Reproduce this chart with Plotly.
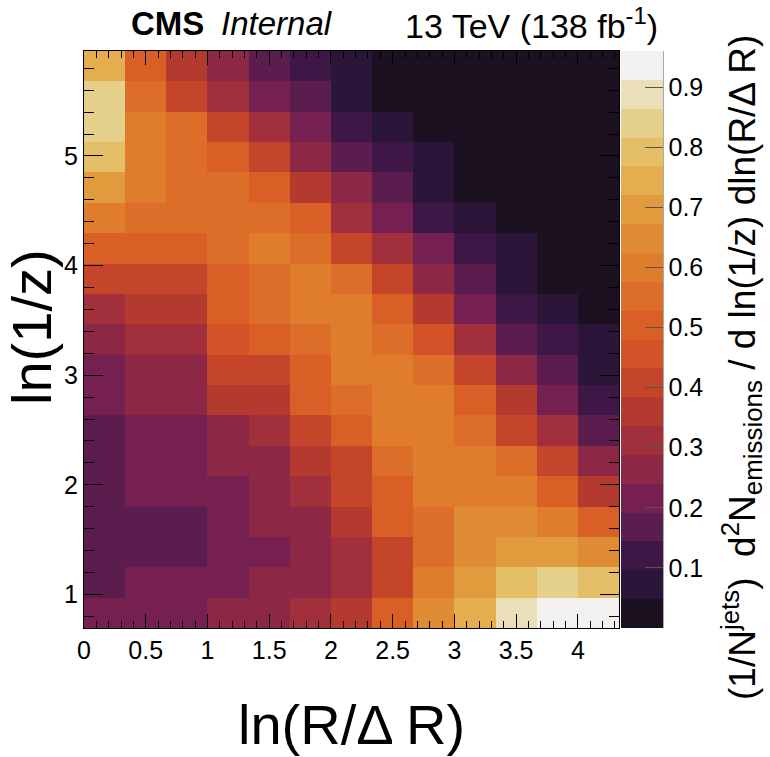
import numpy as np
import plotly.graph_objects as go

# Lund-plane bin edges
x_edges = list(np.linspace(0.0, 13.0 / 3.0, 14))          # ln(R/dR), 13 bins
y_edges = list(np.linspace(0.693, 5.958, 20))              # ln(1/z), 19 bins

# Emission density, rows from lowest ln(1/z) bin (bottom) to highest (top)
density = [
    [0.22, 0.22, 0.22, 0.26, 0.26, 0.31, 0.36, 0.50, 0.65, 0.74, 0.89, 0.95, 0.94],
    [0.17, 0.22, 0.22, 0.22, 0.26, 0.26, 0.31, 0.41, 0.60, 0.70, 0.79, 0.84, 0.79],
    [0.17, 0.17, 0.17, 0.22, 0.22, 0.26, 0.31, 0.41, 0.55, 0.65, 0.70, 0.70, 0.65],
    [0.17, 0.17, 0.17, 0.22, 0.26, 0.26, 0.36, 0.50, 0.55, 0.65, 0.65, 0.60, 0.50],
    [0.17, 0.22, 0.22, 0.22, 0.26, 0.31, 0.41, 0.50, 0.60, 0.60, 0.60, 0.50, 0.36],
    [0.17, 0.22, 0.22, 0.26, 0.26, 0.36, 0.41, 0.55, 0.60, 0.60, 0.55, 0.41, 0.26],
    [0.17, 0.22, 0.22, 0.26, 0.31, 0.41, 0.50, 0.60, 0.60, 0.55, 0.41, 0.31, 0.17],
    [0.22, 0.26, 0.26, 0.36, 0.36, 0.50, 0.55, 0.60, 0.60, 0.50, 0.36, 0.22, 0.12],
    [0.22, 0.26, 0.26, 0.41, 0.41, 0.50, 0.60, 0.60, 0.55, 0.41, 0.26, 0.17, 0.07],
    [0.26, 0.31, 0.31, 0.46, 0.50, 0.55, 0.60, 0.55, 0.46, 0.31, 0.17, 0.12, 0.07],
    [0.31, 0.36, 0.36, 0.50, 0.55, 0.60, 0.60, 0.50, 0.36, 0.22, 0.12, 0.07, 0.02],
    [0.41, 0.41, 0.41, 0.50, 0.55, 0.60, 0.55, 0.41, 0.26, 0.17, 0.07, 0.02, 0.02],
    [0.50, 0.50, 0.50, 0.55, 0.60, 0.55, 0.41, 0.31, 0.22, 0.12, 0.07, 0.02, 0.02],
    [0.60, 0.55, 0.55, 0.55, 0.55, 0.50, 0.31, 0.22, 0.12, 0.07, 0.02, 0.02, 0.02],
    [0.70, 0.60, 0.55, 0.55, 0.50, 0.36, 0.26, 0.17, 0.07, 0.02, 0.02, 0.02, 0.02],
    [0.79, 0.60, 0.55, 0.50, 0.41, 0.26, 0.17, 0.12, 0.07, 0.02, 0.02, 0.02, 0.02],
    [0.84, 0.60, 0.55, 0.41, 0.31, 0.22, 0.12, 0.07, 0.02, 0.02, 0.02, 0.02, 0.02],
    [0.84, 0.55, 0.41, 0.31, 0.22, 0.17, 0.07, 0.02, 0.02, 0.02, 0.02, 0.02, 0.02],
    [0.74, 0.50, 0.36, 0.26, 0.17, 0.12, 0.07, 0.02, 0.02, 0.02, 0.02, 0.02, 0.02],
]

x_tick_vals = [0, 0.5, 1, 1.5, 2, 2.5, 3, 3.5, 4]
x_tick_text = ["0", "0.5", "1", "1.5", "2", "2.5", "3", "3.5", "4"]
y_tick_vals = [1, 2, 3, 4, 5]
y_tick_text = ["1", "2", "3", "4", "5"]
z_tick_vals = [0.1, 0.2, 0.3, 0.4, 0.5, 0.6, 0.7, 0.8, 0.9]
z_tick_text = ["0.1", "0.2", "0.3", "0.4", "0.5", "0.6", "0.7", "0.8", "0.9"]
z_min, z_max = 0.0, 0.96

# 20-level contour palette (low -> high)
palette = [
    "#1c1121", "#2b1538", "#3f1747", "#5b1d4e", "#752050",
    "#8c2846", "#a1303c", "#b43a30", "#c5452a", "#d45227",
    "#d95f27", "#dd6e2a", "#df7d2d", "#e08c34", "#e29b3c",
    "#e4ad4d", "#e5bf68", "#e5d08b", "#ebdfba", "#f3f1ef",
]
n = len(palette)
colorscale = []
for i, c in enumerate(palette):
    colorscale.append([i / n, c])
    colorscale.append([(i + 1) / n, c])

FONT = "Liberation Sans, Arial, Helvetica, sans-serif"

# plot-area geometry in pixels
W, H = 770, 757
L, R, T, B = 84, 619, 51, 628
pw, ph = R - L, B - T


def px_x(x):
    return (x - L) / pw


def px_y(y):
    return (B - y) / ph


fig = go.Figure()
fig.add_trace(go.Heatmap(
    x=x_edges, y=y_edges, z=density,
    zmin=z_min, zmax=z_max,
    colorscale=colorscale,
    hoverinfo="skip",
    colorbar=dict(
        thickness=42, thicknessmode="pixels",
        len=1.0, lenmode="fraction",
        x=px_x(621), xanchor="left", xpad=0,
        y=0.5, yanchor="middle", ypad=0,
        outlinewidth=0,
        tickmode="array", tickvals=z_tick_vals, ticktext=z_tick_text,
        ticks="inside", ticklen=18, tickcolor="#555555", tickwidth=1,
        tickfont=dict(family=FONT, size=25, color="black"),
    ),
))

axis_common = dict(
    showgrid=False, zeroline=False,
    showline=True, linecolor="black", linewidth=1, mirror="ticks",
    ticks="inside", tickcolor="black", tickwidth=1,
    tickfont=dict(family=FONT, size=25, color="black"),
)

fig.update_xaxes(
    range=[0, 13.0 / 3.0], tickmode="array",
    tickvals=x_tick_vals, ticktext=x_tick_text, ticklen=14,
    minor=dict(ticks="inside", ticklen=7, dtick=0.1, tick0=0, tickcolor="black"),
    **axis_common,
)
fig.update_yaxes(
    range=[0.693, 5.958], tickmode="array",
    tickvals=y_tick_vals, ticktext=y_tick_text, ticklen=19,
    minor=dict(ticks="inside", ticklen=10, dtick=0.2, tick0=0, tickcolor="black"),
    **axis_common,
)

annotations = [
    dict(text="ln(R/Δ R)", x=0.5, y=px_y(724), xanchor="center", yanchor="middle",
         font=dict(family=FONT, size=56, color="black")),
    dict(text="ln(1/z)", x=px_x(31), y=px_y(327), xanchor="center", yanchor="middle",
         textangle=-90, font=dict(family=FONT, size=56, color="black")),
    dict(text="(1/N<sup>jets</sup>)  d<sup>2</sup>N<sub>emissions</sub> / d ln(1/z) dln(R/Δ R)",
         x=px_x(741), y=px_y(368), xanchor="center", yanchor="middle",
         textangle=-90, font=dict(family=FONT, size=37, color="black")),
    dict(text="<b>CMS</b>", x=px_x(129), y=px_y(24), xanchor="left", yanchor="middle",
         font=dict(family=FONT, size=33, color="black")),
    dict(text="<i>Internal</i>", x=px_x(219), y=px_y(24), xanchor="left", yanchor="middle",
         font=dict(family=FONT, size=33, color="black")),
    dict(text="13 TeV (138 fb<sup>-1</sup>)", x=px_x(660), y=px_y(24), xanchor="right",
         yanchor="middle", font=dict(family=FONT, size=34, color="black")),
]
for a in annotations:
    a.update(xref="paper", yref="paper", showarrow=False)

fig.update_layout(
    width=W, height=H, autosize=False,
    margin=dict(l=L, r=W - R, t=T, b=H - B, pad=0),
    paper_bgcolor="white", plot_bgcolor="white",
    annotations=annotations,
    shapes=[dict(type="line", xref="paper", yref="paper",
                 x0=px_x(663), x1=px_x(663), y0=0, y1=1,
                 line=dict(color="#555555", width=1))],
)

fig.write_html("out.html")
